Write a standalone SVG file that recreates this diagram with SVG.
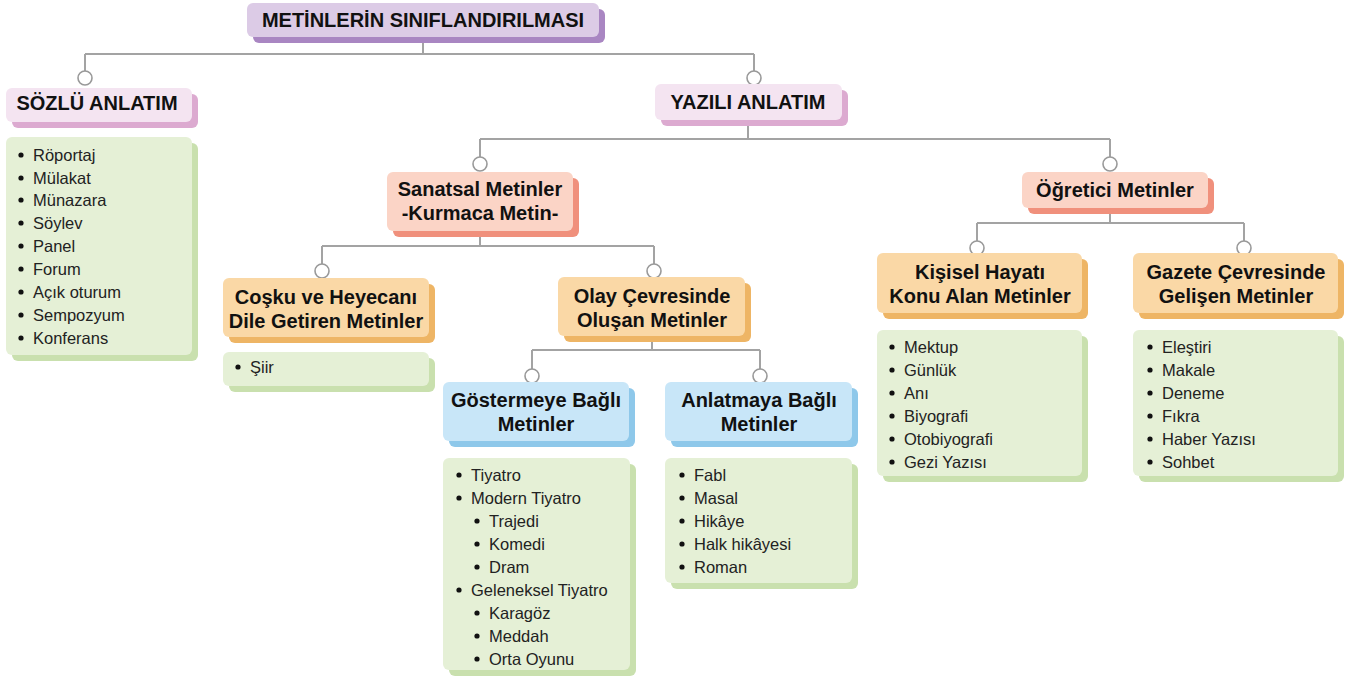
<svg xmlns="http://www.w3.org/2000/svg" width="1348" height="683" viewBox="0 0 1348 683">
<style>
.h{font-family:"Liberation Sans",Arial,sans-serif;font-weight:bold;font-size:20px;fill:#111;text-anchor:middle}
.t{font-family:"Liberation Sans",Arial,sans-serif;font-size:16.5px;fill:#222}
.ln{stroke:#a3a3a3;stroke-width:2;fill:none}
.c{fill:#fff;stroke:#999;stroke-width:1.6}
.pm{fill:#dccbe6}.ps{fill:#a986c2}
.km{fill:#f4e4f1}.ks{fill:#dcaad0}
.sm{fill:#fbd4c6}.ss{fill:#f0907c}
.om{fill:#fad8a6}.os{fill:#eeb565}
.bm{fill:#c8e6f8}.bs{fill:#8ec8ea}
.gm{fill:#e5f0d6}.gs{fill:#c9e0ae}
</style>
<defs>
<circle id="dot" r="2.6" fill="#111"/>
</defs>
<rect width="1348" height="683" fill="#fff"/>

<g id="connectors">
<path class="ln" d="M423 42V54M85 54H754M85 54V71M754 54V71"/>
<path class="ln" d="M748 126V139M480 139H1110M480 139V157M1110 139V157"/>
<path class="ln" d="M480 236V246M322 246H654M322 246V264M654 246V264"/>
<path class="ln" d="M1110 213V223M977 223H1244M977 223V241M1244 223V241"/>
<path class="ln" d="M652 342V350M532 350H760M532 350V369M760 350V369"/>
<circle class="c" cx="85" cy="78" r="7"/>
<circle class="c" cx="754" cy="78" r="7"/>
<circle class="c" cx="480" cy="164" r="7"/>
<circle class="c" cx="1110" cy="164" r="7"/>
<circle class="c" cx="322" cy="271" r="7"/>
<circle class="c" cx="654" cy="271" r="7"/>
<circle class="c" cx="977" cy="248" r="7"/>
<circle class="c" cx="1244" cy="248" r="7"/>
<circle class="c" cx="532" cy="376" r="7"/>
<circle class="c" cx="760" cy="376" r="7"/>
</g>

<g id="title">
<rect class="ps" x="253" y="9" width="352" height="34" rx="6"/>
<rect class="pm" x="247" y="3" width="352" height="34" rx="6"/>
<text class="h" x="423" y="27">METİNLERİN SINIFLANDIRILMASI</text>
</g>

<g id="sozlu">
<rect class="ks" x="12" y="94" width="186" height="34" rx="6"/>
<rect class="km" x="6" y="88" width="186" height="34" rx="6"/>
<text class="h" x="97" y="110">SÖZLÜ ANLATIM</text>
</g>

<g id="sozlu-list">
<rect class="gs" x="12" y="143" width="186" height="218" rx="6"/>
<rect class="gm" x="6" y="137" width="186" height="218" rx="6"/>
<use href="#dot" x="21" y="155"/><text class="t" x="33" y="161">Röportaj</text>
<use href="#dot" x="21" y="178"/><text class="t" x="33" y="184">Mülakat</text>
<use href="#dot" x="21" y="200"/><text class="t" x="33" y="206">Münazara</text>
<use href="#dot" x="21" y="223"/><text class="t" x="33" y="229">Söylev</text>
<use href="#dot" x="21" y="246"/><text class="t" x="33" y="252">Panel</text>
<use href="#dot" x="21" y="269"/><text class="t" x="33" y="275">Forum</text>
<use href="#dot" x="21" y="292"/><text class="t" x="33" y="298">Açık oturum</text>
<use href="#dot" x="21" y="315"/><text class="t" x="33" y="321">Sempozyum</text>
<use href="#dot" x="21" y="338"/><text class="t" x="33" y="344">Konferans</text>
</g>

<g id="yazili">
<rect class="ks" x="661" y="90" width="187" height="36" rx="6"/>
<rect class="km" x="655" y="84" width="187" height="36" rx="6"/>
<text class="h" x="748" y="109">YAZILI ANLATIM</text>
</g>

<g id="sanatsal">
<rect class="ss" x="393" y="178" width="186" height="59" rx="6"/>
<rect class="sm" x="387" y="172" width="186" height="59" rx="6"/>
<text class="h" x="480" y="196">Sanatsal Metinler</text>
<text class="h" x="480" y="220">-Kurmaca Metin-</text>
</g>

<g id="ogretici">
<rect class="ss" x="1028" y="178" width="186" height="36" rx="6"/>
<rect class="sm" x="1022" y="172" width="186" height="36" rx="6"/>
<text class="h" x="1115" y="197">Öğretici Metinler</text>
</g>

<g id="cosku">
<rect class="os" x="229" y="284" width="206" height="59" rx="6"/>
<rect class="om" x="223" y="278" width="206" height="59" rx="6"/>
<text class="h" x="326" y="304">Coşku ve Heyecanı</text>
<text class="h" x="326" y="328">Dile Getiren Metinler</text>
</g>

<g id="siir-list">
<rect class="gs" x="229" y="358" width="206" height="34" rx="6"/>
<rect class="gm" x="223" y="352" width="206" height="34" rx="6"/>
<use href="#dot" x="238" y="367"/><text class="t" x="250" y="373">Şiir</text>
</g>

<g id="olay">
<rect class="os" x="564" y="283" width="187" height="59" rx="6"/>
<rect class="om" x="558" y="277" width="187" height="59" rx="6"/>
<text class="h" x="652" y="303">Olay Çevresinde</text>
<text class="h" x="652" y="327">Oluşan Metinler</text>
</g>

<g id="gostermeye">
<rect class="bs" x="449" y="388" width="186" height="59" rx="6"/>
<rect class="bm" x="443" y="382" width="186" height="59" rx="6"/>
<text class="h" x="536" y="407">Göstermeye Bağlı</text>
<text class="h" x="536" y="431">Metinler</text>
</g>

<g id="anlatmaya">
<rect class="bs" x="671" y="388" width="187" height="59" rx="6"/>
<rect class="bm" x="665" y="382" width="187" height="59" rx="6"/>
<text class="h" x="759" y="407">Anlatmaya Bağlı</text>
<text class="h" x="759" y="431">Metinler</text>
</g>

<g id="gostermeye-list">
<rect class="gs" x="449" y="464" width="187" height="212" rx="6"/>
<rect class="gm" x="443" y="458" width="187" height="212" rx="6"/>
<use href="#dot" x="459" y="475"/><text class="t" x="471" y="481">Tiyatro</text>
<use href="#dot" x="459" y="498"/><text class="t" x="471" y="504">Modern Tiyatro</text>
<use href="#dot" x="477" y="521"/><text class="t" x="489" y="527">Trajedi</text>
<use href="#dot" x="477" y="544"/><text class="t" x="489" y="550">Komedi</text>
<use href="#dot" x="477" y="567"/><text class="t" x="489" y="573">Dram</text>
<use href="#dot" x="459" y="590"/><text class="t" x="471" y="596">Geleneksel Tiyatro</text>
<use href="#dot" x="477" y="613"/><text class="t" x="489" y="619">Karagöz</text>
<use href="#dot" x="477" y="636"/><text class="t" x="489" y="642">Meddah</text>
<use href="#dot" x="477" y="659"/><text class="t" x="489" y="665">Orta Oyunu</text>
</g>

<g id="anlatmaya-list">
<rect class="gs" x="671" y="464" width="187" height="125" rx="6"/>
<rect class="gm" x="665" y="458" width="187" height="125" rx="6"/>
<use href="#dot" x="682" y="475"/><text class="t" x="694" y="481">Fabl</text>
<use href="#dot" x="682" y="498"/><text class="t" x="694" y="504">Masal</text>
<use href="#dot" x="682" y="521"/><text class="t" x="694" y="527">Hikâye</text>
<use href="#dot" x="682" y="544"/><text class="t" x="694" y="550">Halk hikâyesi</text>
<use href="#dot" x="682" y="567"/><text class="t" x="694" y="573">Roman</text>
</g>

<g id="kisisel">
<rect class="os" x="883" y="259" width="205" height="60" rx="6"/>
<rect class="om" x="877" y="253" width="205" height="60" rx="6"/>
<text class="h" x="980" y="279">Kişisel Hayatı</text>
<text class="h" x="980" y="303">Konu Alan Metinler</text>
</g>

<g id="gazete">
<rect class="os" x="1139" y="259" width="205" height="60" rx="6"/>
<rect class="om" x="1133" y="253" width="205" height="60" rx="6"/>
<text class="h" x="1236" y="279">Gazete Çevresinde</text>
<text class="h" x="1236" y="303">Gelişen Metinler</text>
</g>

<g id="kisisel-list">
<rect class="gs" x="883" y="336" width="205" height="146" rx="6"/>
<rect class="gm" x="877" y="330" width="205" height="146" rx="6"/>
<use href="#dot" x="892" y="347"/><text class="t" x="904" y="353">Mektup</text>
<use href="#dot" x="892" y="370"/><text class="t" x="904" y="376">Günlük</text>
<use href="#dot" x="892" y="393"/><text class="t" x="904" y="399">Anı</text>
<use href="#dot" x="892" y="416"/><text class="t" x="904" y="422">Biyografi</text>
<use href="#dot" x="892" y="439"/><text class="t" x="904" y="445">Otobiyografi</text>
<use href="#dot" x="892" y="462"/><text class="t" x="904" y="468">Gezi Yazısı</text>
</g>

<g id="gazete-list">
<rect class="gs" x="1139" y="336" width="205" height="146" rx="6"/>
<rect class="gm" x="1133" y="330" width="205" height="146" rx="6"/>
<use href="#dot" x="1150" y="347"/><text class="t" x="1162" y="353">Eleştiri</text>
<use href="#dot" x="1150" y="370"/><text class="t" x="1162" y="376">Makale</text>
<use href="#dot" x="1150" y="393"/><text class="t" x="1162" y="399">Deneme</text>
<use href="#dot" x="1150" y="416"/><text class="t" x="1162" y="422">Fıkra</text>
<use href="#dot" x="1150" y="439"/><text class="t" x="1162" y="445">Haber Yazısı</text>
<use href="#dot" x="1150" y="462"/><text class="t" x="1162" y="468">Sohbet</text>
</g>
</svg>
